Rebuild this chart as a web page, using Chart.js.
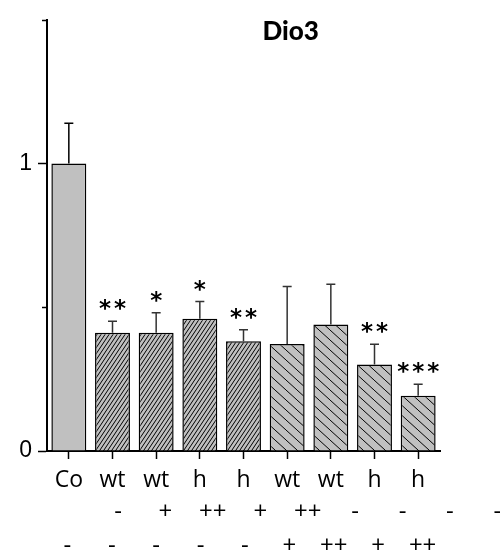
<!DOCTYPE html>
<html>
<head>
<meta charset="utf-8">
<script src="https://cdn.jsdelivr.net/npm/chart.js@4.4.1/dist/chart.umd.min.js"></script>
<style>
  body { margin: 0; background: #fff; }
  canvas { display: block; }
</style>
</head>
<body>
<canvas id="dioChart" width="500" height="556"></canvas>
<script>
// Dio3 relative expression, mean + SEM
const groups = ["Co", "wt", "wt", "h", "h", "wt", "wt", "h", "h"];
const means = [1.0, 0.411, 0.411, 0.46, 0.382, 0.372, 0.44, 0.301, 0.192];
const sems = [0.14, 0.04, 0.07, 0.06, 0.04, 0.20, 0.14, 0.07, 0.04];
const stars = ["", "**", "*", "*", "**", "", "", "**", "***"];
const treatA = ["-", "+", "++", "+", "++", "-", "-", "-", "-"];
const treatB = ["-", "-", "-", "-", "-", "+", "++", "+", "++"];
const yTicks = [0, 1];
const yMinorTicks = [0.5, 1.5];

const ctx = document.getElementById("dioChart").getContext("2d");

function hatch(w, h, back) {
  const c = document.createElement("canvas");
  c.width = w;
  c.height = h;
  const g = c.getContext("2d");
  g.fillStyle = "#c0c0c0";
  g.fillRect(0, 0, w, h);
  g.strokeStyle = "#000";
  g.lineWidth = 1;
  g.beginPath();
  if (back) {
    g.moveTo(0, 0); g.lineTo(w, h);
    g.moveTo(-w, 0); g.lineTo(0, h);
    g.moveTo(w, 0); g.lineTo(2 * w, h);
  } else {
    g.moveTo(0, h); g.lineTo(w, 0);
    g.moveTo(-w, h); g.lineTo(0, 0);
    g.moveTo(w, h); g.lineTo(2 * w, 0);
  }
  g.stroke();
  return ctx.createPattern(c, "repeat");
}

const dense = hatch(4, 6, false);
const sparse = hatch(11, 10, true);
const fills = groups.map((g, i) => i === 0 ? "#c0c0c0" : (i < 5 ? dense : sparse));

const extras = {
  id: "extras",
  afterDatasetsDraw(chart) {
    const c = chart.ctx;
    const y = chart.scales.y;
    const x = chart.scales.x;
    const bars = chart.getDatasetMeta(0).data;

    // error bars (upper half only) and significance marks
    bars.forEach((bar, i) => {
      const top = y.getPixelForValue(means[i]);
      const errTop = y.getPixelForValue(means[i] + sems[i]);
      c.save();
      c.strokeStyle = i === 0 ? "#000" : "#333";
      c.lineWidth = 1.5;
      c.beginPath();
      c.moveTo(bar.x, top);
      c.lineTo(bar.x, errTop);
      c.moveTo(bar.x - 4.5, errTop);
      c.lineTo(bar.x + 4.5, errTop);
      c.stroke();

      const s = stars[i];
      c.fillStyle = "#000";
      c.font = "bold 23px 'DejaVu Sans'";
      c.textAlign = "center";
      c.textBaseline = "alphabetic";
      for (let k = 0; k < s.length; k++) {
        const sx = bar.x + (k - (s.length - 1) / 2) * 15;
        c.fillText("*", sx, errTop - 5);
      }
      c.restore();
    });

    // short minor ticks on the y axis
    c.save();
    c.strokeStyle = "#000";
    c.lineWidth = 1.5;
    yMinorTicks.forEach(v => {
      const py = Math.round(y.getPixelForValue(v)) + 0.5;
      c.beginPath();
      c.moveTo(chart.chartArea.left - 5, py);
      c.lineTo(chart.chartArea.left, py);
      c.stroke();
    });
    c.restore();

    // title
    const area = chart.chartArea;
    c.save();
    c.fillStyle = "#000";
    c.font = "900 26px Lato";
    c.textAlign = "center";
    c.textBaseline = "alphabetic";
    c.fillText("Dio3", area.left + (area.right - area.left) * 0.62, 40);
    c.restore();

    // treatment rows under the group names
    const step = x.getPixelForValue(1) - x.getPixelForValue(0);
    c.save();
    c.fillStyle = "#000";
    c.font = "24px 'Open Sans'";
    c.textAlign = "center";
    c.textBaseline = "alphabetic";
    treatA.forEach((t, i) => {
      c.fillText(t, x.getPixelForValue(1) + 5.5 + i * step * 1.086, 519);
    });
    treatB.forEach((t, i) => {
      c.fillText(t, x.getPixelForValue(0) - 1.5 + i * step * 1.017, 553);
    });
    c.restore();
  }
};

new Chart(ctx, {
  type: "bar",
  data: {
    labels: groups,
    datasets: [{
      data: means,
      backgroundColor: fills,
      borderColor: "#000",
      borderWidth: 1.5,
      categoryPercentage: 0.8,
      barPercentage: 1
    }]
  },
  options: {
    responsive: false,
    animation: false,
    layout: { padding: { top: 13, right: 60, left: 0, bottom: 0 } },
    plugins: {
      legend: { display: false },
      tooltip: { enabled: false },
      title: { display: false }
    },
    scales: {
      x: {
        grid: {
          drawOnChartArea: false,
          offset: false,
          tickLength: 8,
          tickColor: "#000",
          tickWidth: 1.5
        },
        border: { color: "#000", width: 2 },
        ticks: {
          color: "#000",
          font: { family: "'Open Sans'", size: 23 },
          padding: 8,
          maxRotation: 0,
          autoSkip: false
        },
        afterFit: s => { s.height = 105; }
      },
      y: {
        min: 0,
        max: 1.5,
        afterBuildTicks: s => { s.ticks = yTicks.map(v => ({ value: v })); },
        grid: {
          drawOnChartArea: false,
          tickLength: 9,
          tickColor: "#000",
          tickWidth: 1.5
        },
        border: { color: "#000", width: 2 },
        ticks: {
          color: "#000",
          font: { family: "'Liberation Sans'", size: 23 },
          padding: 6
        },
        afterFit: s => { s.width = 47; }
      }
    }
  },
  plugins: [extras]
});
</script>
</body>
</html>
